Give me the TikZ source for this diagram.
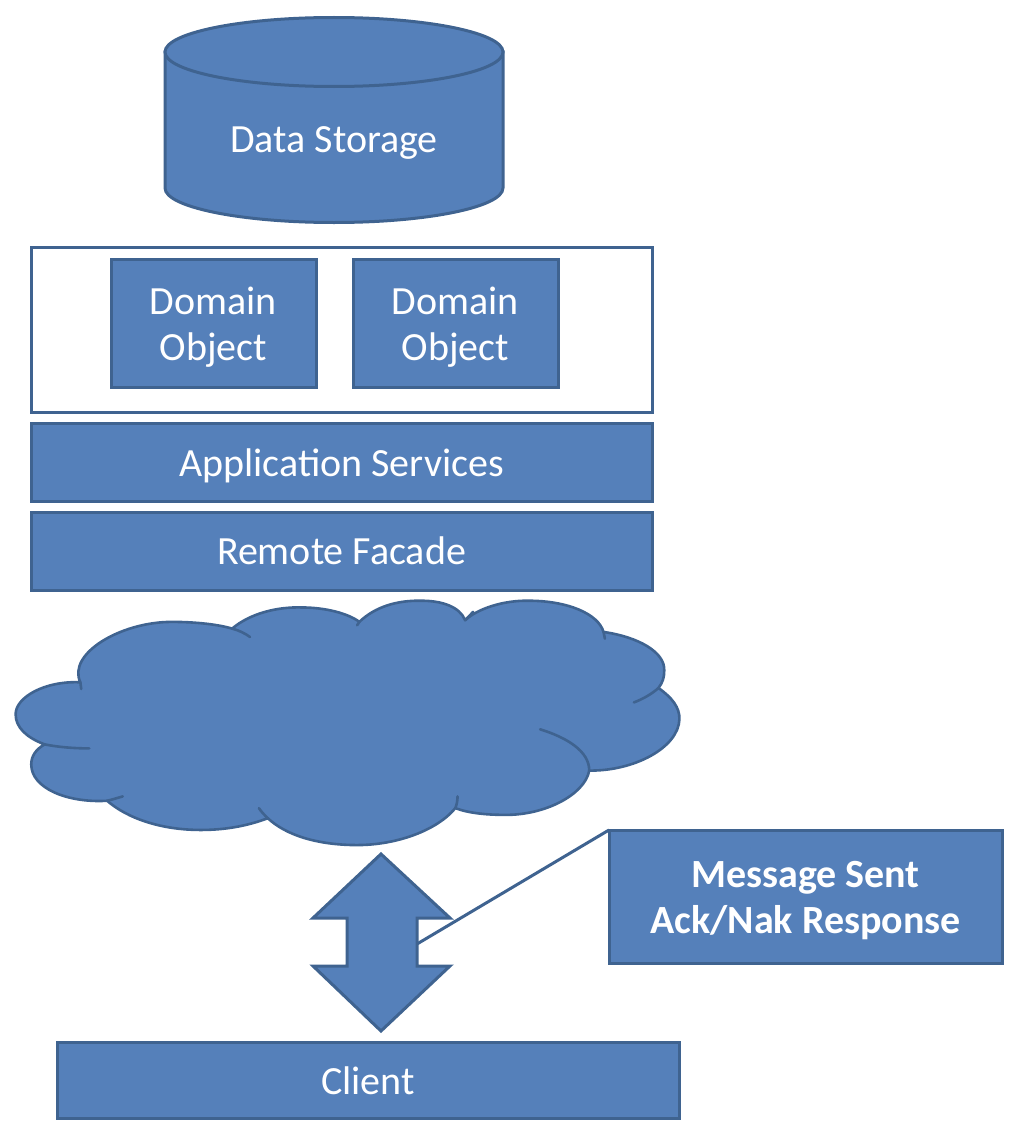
\documentclass[tikz,border=0pt]{standalone}
\usepackage{fontspec}
\setmainfont{Carlito}
\definecolor{fillblue}{HTML}{5580BA}
\definecolor{edgeblue}{HTML}{3F6390}
\tikzset{
  shapeline/.style={draw=edgeblue,line width=3pt,line join=miter},
  solidshape/.style={shapeline,fill=fillblue},
  lbl/.style={text=white,font=\fontsize{40}{46}\selectfont,align=center},
  boldlbl/.style={text=white,font=\fontsize{40}{46}\selectfont\bfseries,align=center},
  box/.style={solidshape,rectangle,inner sep=0pt,outer sep=0pt}
}
\begin{document}
\begin{tikzpicture}[x=1pt,y=-1pt]
\useasboundingbox (0,0) rectangle (1028,1148);
% cylinder
\draw[solidshape] (165,52) -- (165,188) arc[start angle=180,end angle=0,x radius=169,y radius=34.5] -- (503,52) -- cycle;
\draw[solidshape] (334,52) ellipse[x radius=169,y radius=34.5];
\node[lbl] (storage) at (334,143) {Data Storage};
% domain frame
\node[shapeline,rectangle,inner sep=0pt,outer sep=0pt,minimum width=621pt,minimum height=165pt] (frame) at (341.5,329.5) {};
\node[box,minimum width=205pt,minimum height=128pt] (dom1) at (213.5,323) {};
\node[lbl] (dom1text) at (213.5,327) {Domain\\Object};
\node[box,minimum width=205pt,minimum height=128pt] (dom2) at (455.5,323) {};
\node[lbl] (dom2text) at (455.5,327) {Domain\\Object};
\node[box,minimum width=621pt,minimum height=78pt] (app) at (341.5,462) {};
\node[lbl] (apptext) at (341.5,466) {Application Services};
\node[box,minimum width=621pt,minimum height=78pt] (remote) at (341.5,551) {};
\node[lbl] (remotetext) at (341.5,551) {Remote Facade};
% cloud
\begin{scope}[shift={(0,590)},x=0.4464pt,y=-0.3356pt]
\draw[solidshape,line width=2.6pt,line join=round]
 (180,275) .. controls (150,190) and (270,95) .. (385,95)
 .. controls (440,95) and (490,103) .. (520,115)
 .. controls (560,70) and (620,50) .. (675,52)
 .. controls (730,52) and (780,70) .. (805,95)
 .. controls (840,50) and (890,30) .. (945,32)
 .. controls (990,32) and (1030,50) .. (1042,90)
 .. controls (1070,55) and (1130,30) .. (1185,32)
 .. controls (1270,32) and (1340,70) .. (1352,125)
 .. controls (1430,140) and (1490,185) .. (1488,240)
 .. controls (1488,260) and (1485,275) .. (1475,292)
 .. controls (1505,320) and (1523,350) .. (1522,385)
 .. controls (1520,470) and (1420,540) .. (1320,538)
 .. controls (1310,610) and (1220,672) .. (1130,670)
 .. controls (1090,670) and (1050,665) .. (1020,650)
 .. controls (980,715) and (890,760) .. (800,760)
 .. controls (710,760) and (640,730) .. (600,680)
 .. controls (550,705) and (500,715) .. (450,715)
 .. controls (360,715) and (285,680) .. (240,628)
 .. controls (150,635) and (70,590) .. (70,520)
 .. controls (70,495) and (80,475) .. (100,460)
 .. controls (60,440) and (35,410) .. (35,370)
 .. controls (35,320) and (100,270) .. (180,275) -- cycle;
\draw[edgeblue,line width=2.6pt,line cap=round]
 (520,115) .. controls (535,120) and (550,130) .. (560,140)
 (805,95) -- (800,105)
 (1042,90) -- (1060,65)
 (1352,125) -- (1355,145)
 (1475,292) .. controls (1460,310) and (1440,325) .. (1420,335)
 (1210,415) .. controls (1270,440) and (1320,480) .. (1320,538)
 (1025,615) .. controls (1025,628) and (1023,640) .. (1020,650)
 (580,650) .. controls (585,660) and (592,670) .. (600,680)
 (240,628) .. controls (250,625) and (262,620) .. (275,615)
 (100,460) .. controls (130,468) and (165,472) .. (200,472)
 (180,275) -- (182,295);
\end{scope}
% double arrow
\draw[solidshape] (381,854) -- (450,918) -- (417,918) -- (417,966) -- (450,966) -- (381,1031) -- (313,966) -- (347,966) -- (347,918) -- (313,918) -- cycle;
\coordinate (arrowside) at (417,944);
% callout
\node[box,minimum width=393pt,minimum height=133pt] (msg) at (805.5,896.5) {};
\node[boldlbl] (msgtext) at (805.5,900.5) {Message Sent\\Ack/Nak Response};
\draw[edgeblue,line width=3pt] (arrowside) -- (msg.north west);
% client
\node[box,minimum width=622pt,minimum height=76pt] (client) at (368,1080) {};
\node[lbl] (clienttext) at (368,1081) {Client};
\end{tikzpicture}
\end{document}
